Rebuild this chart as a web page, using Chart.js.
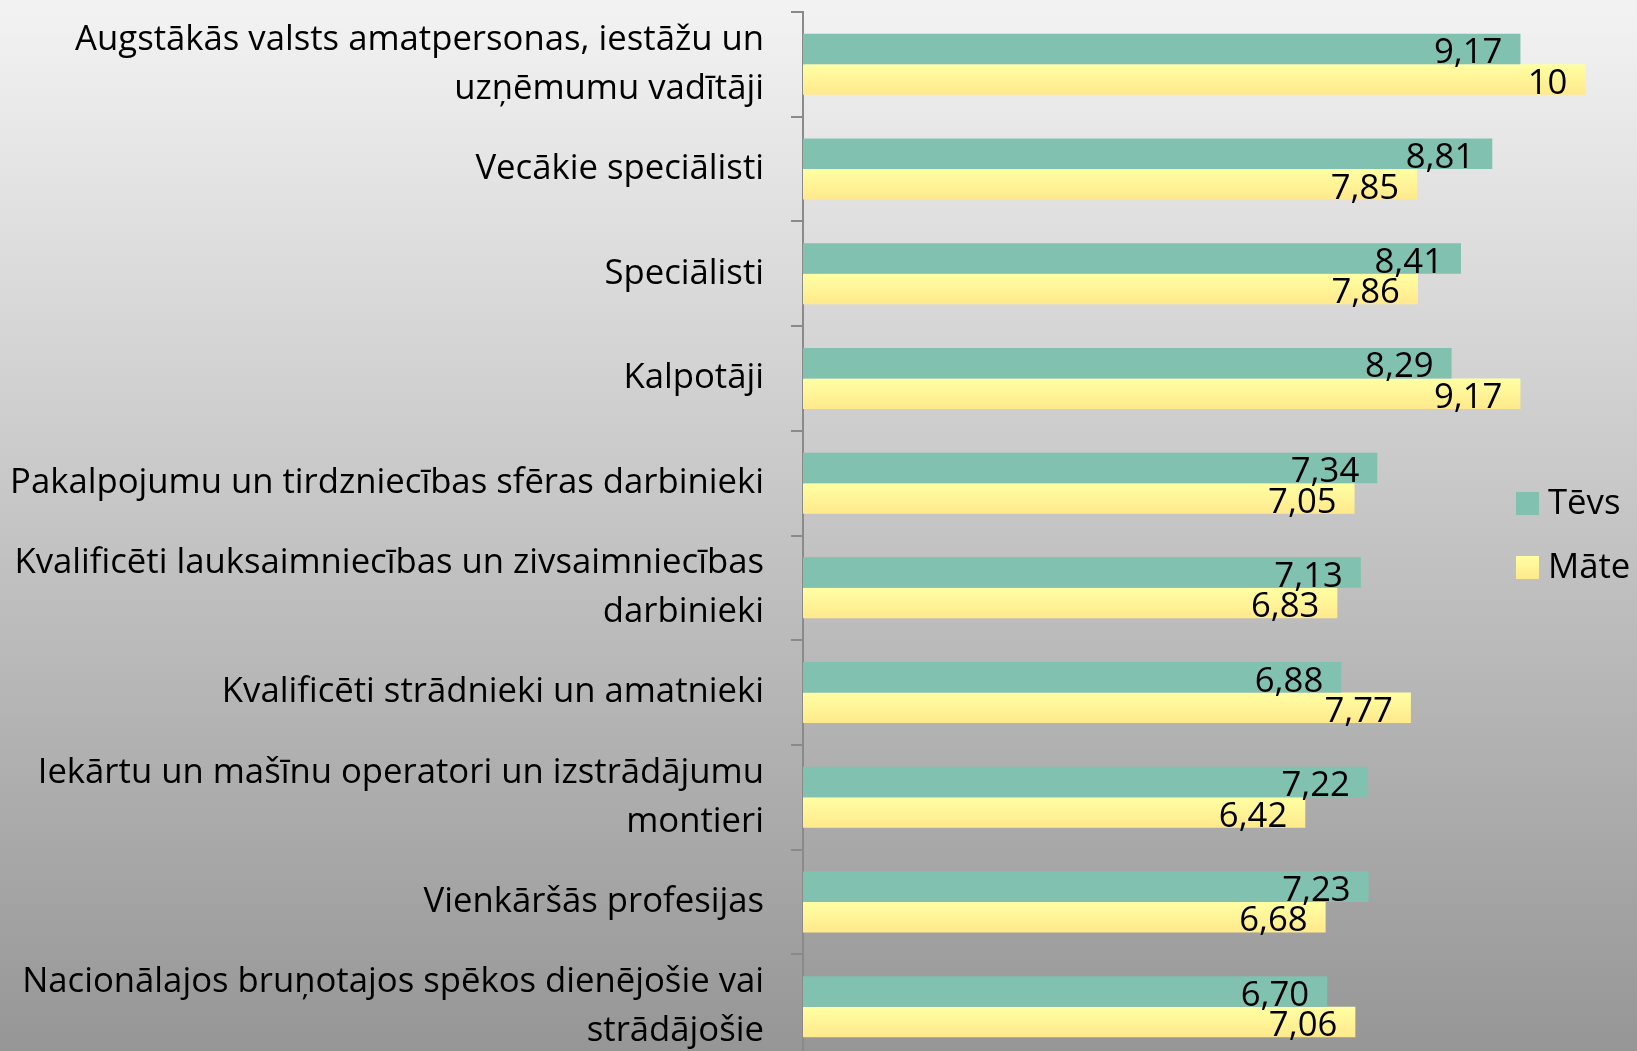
<!DOCTYPE html>
<html>
<head>
<meta charset="utf-8">
<script src="https://cdn.jsdelivr.net/npm/chart.js@4/dist/chart.umd.min.js"></script>
<style>
    html, body { margin: 0; padding: 0; overflow: hidden; }
    body {
        width: 1637px;
        height: 1051px;
        background: linear-gradient(to bottom, #f3f3f3 0%, #969696 100%);
    }
    #wrap { position: absolute; left: 0; top: 0; }
</style>
</head>
<body>
<div id="wrap"><canvas id="chart" width="1637" height="1059"></canvas></div>
<script>
const categories = [
    ["Augstākās valsts amatpersonas, iestāžu un", "uzņēmumu vadītāji"],
    "Vecākie speciālisti",
    "Speciālisti",
    "Kalpotāji",
    "Pakalpojumu un tirdzniecības sfēras darbinieki",
    ["Kvalificēti lauksaimniecības un zivsaimniecības", "darbinieki"],
    "Kvalificēti strādnieki un amatnieki",
    ["Iekārtu un mašīnu operatori un izstrādājumu", "montieri"],
    "Vienkāršās profesijas",
    ["Nacionālajos bruņotajos spēkos dienējošie vai", "strādājošie"]
];
const seriesNames = ["Tēvs", "Māte"];
const tevsValues = [9.17, 8.81, 8.41, 8.29, 7.34, 7.13, 6.88, 7.22, 7.23, 6.70];
const mateValues = [10, 7.85, 7.86, 9.17, 7.05, 6.83, 7.77, 6.42, 6.68, 7.06];

const FONT = '"Open Sans", "DejaVu Sans", sans-serif';
const FONT_SIZE = 34.7;
const TEAL = "#80c1b0";

function fmt(v) {
    return Number.isInteger(v) ? String(v) : v.toFixed(2).replace(".", ",");
}

function yellowGradient(c, top, bottom) {
    const g = c.createLinearGradient(0, top, 0, bottom);
    g.addColorStop(0, "#ffffa3");
    g.addColorStop(1, "#ffe98c");
    return g;
}

// yellow bars get a vertical gradient once their position is known
function mateFill(context) {
    const el = context.element;
    if (!el || el.y == null || isNaN(el.y) || !el.height) return "#fff59a";
    return yellowGradient(context.chart.ctx, el.y - el.height / 2, el.y + el.height / 2);
}

const valueLabels = {
    id: "valueLabels",
    afterDatasetsDraw(chart) {
        const c = chart.ctx;
        c.save();
        c.font = FONT_SIZE + "px " + FONT;
        c.fillStyle = "#000";
        c.textAlign = "right";
        c.textBaseline = "alphabetic";
        chart.data.datasets.forEach((ds, di) => {
            chart.getDatasetMeta(di).data.forEach((el, i) => {
                c.fillText(fmt(ds.data[i]), el.x - 18, el.y + el.height / 2 - 1);
            });
        });
        c.restore();
    }
};

const sideLegend = {
    id: "sideLegend",
    afterDraw(chart) {
        const c = chart.ctx;
        const tops = [492, 556];
        c.save();
        c.font = FONT_SIZE + "px " + FONT;
        c.textAlign = "left";
        c.textBaseline = "alphabetic";
        chart.data.datasets.forEach((ds, i) => {
            const t = tops[i];
            c.fillStyle = i === 0 ? TEAL : yellowGradient(c, t, t + 23);
            c.fillRect(1516, t, 23, 23);
            c.fillStyle = "#000";
            c.fillText(ds.label, 1548, t + 22);
        });
        c.restore();
    }
};

const chart = new Chart(document.getElementById("chart"), {
    type: "bar",
    data: {
        labels: categories,
        datasets: [
            { label: seriesNames[0], data: tevsValues, backgroundColor: TEAL },
            { label: seriesNames[1], data: mateValues, backgroundColor: mateFill }
        ]
    },
    options: {
        indexAxis: "y",
        responsive: false,
        animation: false,
        events: [],
        categoryPercentage: 0.583,
        barPercentage: 1,
        layout: { padding: { top: 12, right: 0, bottom: 0, left: 0 } },
        plugins: {
            legend: { display: false },
            tooltip: { enabled: false }
        },
        scales: {
            x: {
                display: false,
                min: 0,
                max: 10.66
            },
            y: {
                afterFit(scale) {
                    scale.width = 803;
                    scale.paddingTop = 0;
                    scale.paddingBottom = 0;
                },
                border: { display: true, color: "#8a8a8a", width: 2 },
                grid: {
                    drawOnChartArea: false,
                    drawTicks: true,
                    tickLength: 12,
                    color: "#8a8a8a",
                    lineWidth: 2
                },
                ticks: {
                    autoSkip: false,
                    color: "#000",
                    padding: 27,
                    font: { family: FONT, size: FONT_SIZE, lineHeight: 1.41 }
                }
            }
        }
    },
    plugins: [valueLabels, sideLegend]
});
chart.update();
</script>
</body>
</html>
